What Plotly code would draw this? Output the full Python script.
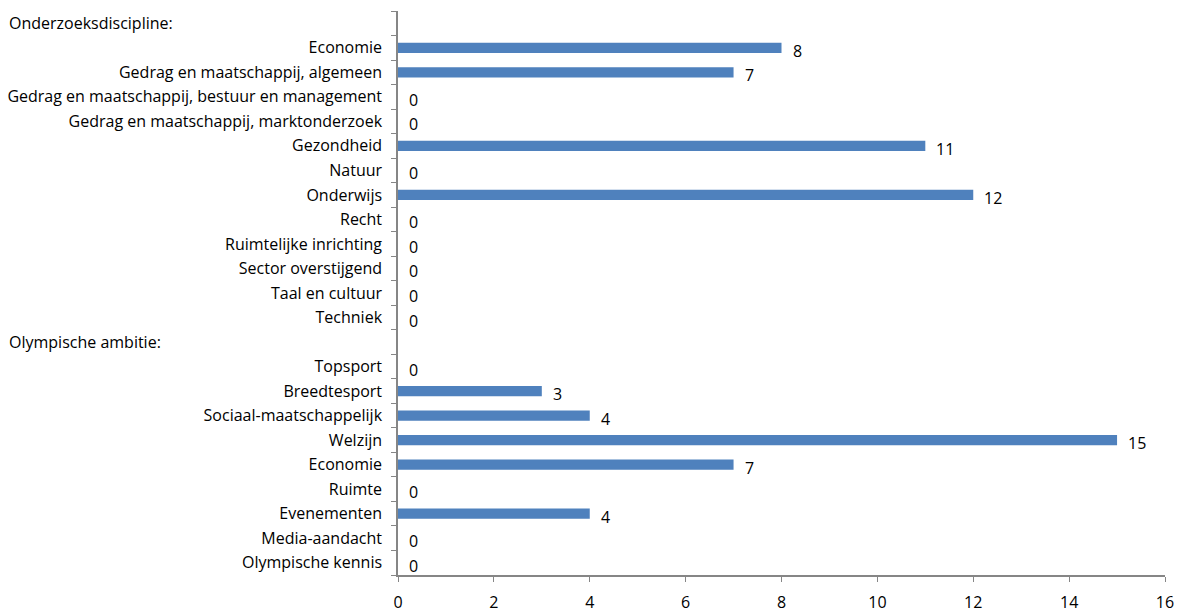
import plotly.graph_objects as go

labels = [
    "Onderzoeksdiscipline:",
    "Economie",
    "Gedrag en maatschappij, algemeen",
    "Gedrag en maatschappij, bestuur en management",
    "Gedrag en maatschappij, marktonderzoek",
    "Gezondheid",
    "Natuur",
    "Onderwijs",
    "Recht",
    "Ruimtelijke inrichting",
    "Sector overstijgend",
    "Taal en cultuur",
    "Techniek",
    "Olympische ambitie:",
    "Topsport",
    "Breedtesport",
    "Sociaal-maatschappelijk",
    "Welzijn",
    "Economie",
    "Ruimte",
    "Evenementen",
    "Media-aandacht",
    "Olympische kennis",
]
values = [None, 8, 7, 0, 0, 11, 0, 12, 0, 0, 0, 0, 0,
          None, 0, 3, 4, 15, 7, 0, 4, 0, 0]
is_header = [l.endswith(":") for l in labels]
x_ticks = [0, 2, 4, 6, 8, 10, 12, 14, 16]

FONT = "Open Sans"
FS = 16
n = len(labels)
pos = list(range(n))
bar_pos = [p for p, h in zip(pos, is_header) if not h]
bar_vals = [v for v, h in zip(values, is_header) if not h]

fig = go.Figure()
fig.add_trace(go.Bar(
    x=bar_vals, y=bar_pos, orientation="h",
    marker=dict(color="#4F81BD", line=dict(width=0)),
    width=0.42,
))

for v, p in zip(bar_vals, bar_pos):
    fig.add_annotation(x=v, y=p, xref="x", yref="y", text=str(v),
                       xanchor="left", xshift=9, yshift=-3, showarrow=False,
                       font=dict(family=FONT, size=FS, color="#000000"))

for p, l, h in zip(pos, labels, is_header):
    if h:
        fig.add_annotation(x=0, y=p, xref="paper", yref="y", text=l,
                           xanchor="left", xshift=-391, showarrow=False,
                           font=dict(family=FONT, size=FS, color="#000000"))

fig.update_layout(
    width=1184, height=614,
    margin=dict(l=398, r=19, t=11, b=39),
    paper_bgcolor="white", plot_bgcolor="white",
    showlegend=False,
    font=dict(family=FONT, size=FS, color="#000000"),
)
fig.update_xaxes(
    range=[0, 16], tickvals=x_ticks, showgrid=False, zeroline=False,
    showline=True, linecolor="#868686", linewidth=1.5,
    ticks="outside", ticklen=5, tickcolor="#868686",
    ticklabelstandoff=7, automargin=False,
    tickfont=dict(family=FONT, size=16),
)
fig.update_yaxes(
    range=[n - 0.5, -0.5], tickmode="array", tickvals=pos,
    ticktext=["" if h else l for l, h in zip(labels, is_header)],
    showgrid=False, zeroline=False, automargin=False,
    showline=True, linecolor="#868686", linewidth=1.5,
    ticks="", ticklabelstandoff=11,
    minor=dict(tickvals=[p - 0.5 for p in pos] + [n - 0.5], ticks="outside",
               ticklen=5, tickcolor="#868686", showgrid=False),
    tickfont=dict(family=FONT, size=FS),
)
fig.write_html("out.html", config={"displayModeBar": False},
               post_script="document.body.style.margin='0';document.body.style.overflow='hidden';")
